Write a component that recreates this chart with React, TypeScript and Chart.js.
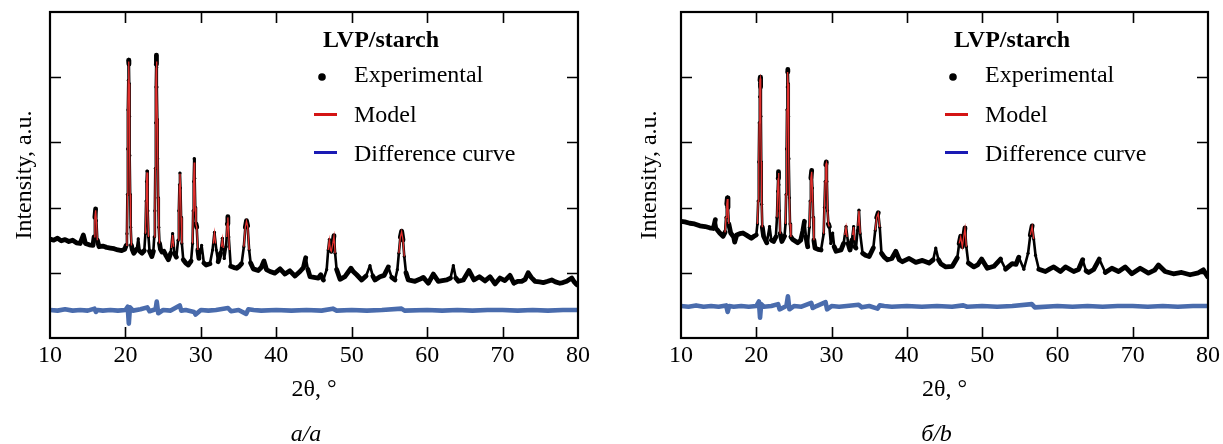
import { useEffect, useRef } from "react";
import { Chart, registerables } from "chart.js";

Chart.register(...registerables);

const FONT = '"Liberation Serif", "Times New Roman", serif';

// ---------- text ----------
const xTickValues = [10, 20, 30, 40, 50, 60, 70, 80];
const yTickValues = [1, 2, 3, 4];
const legendTitle = "LVP/starch";
const legendLabels = ["Experimental", "Model", "Difference curve"];
const xTitle = "2θ, °";
const yTitle = "Intensity, a.u.";
const captionA = "a/a";
const captionB = "б/b";

// ---------- panel a: [2θ, intensity] ----------
const expA: [number, number][] = [
  [10.0, 1.52], [10.5, 1.5], [11.0, 1.53], [11.5, 1.49], [12.0, 1.51], [12.5, 1.48], [13.0, 1.5], [13.5, 1.46],
  [14.0, 1.45], [14.42, 1.58], [14.7, 1.45], [15.2, 1.43], [15.7, 1.42], [15.85, 1.55], [15.95, 1.85], [16.05, 1.98],
  [16.15, 1.8], [16.28, 1.5], [16.5, 1.4], [17.0, 1.41], [17.5, 1.39], [18.0, 1.38], [18.5, 1.37], [19.0, 1.35],
  [19.5, 1.34], [19.9, 1.36], [20.1, 1.42], [20.2, 1.6], [20.26, 2.2], [20.3, 2.9], [20.34, 3.5], [20.38, 3.95],
  [20.42, 4.26], [20.46, 4.2], [20.5, 3.9], [20.54, 3.4], [20.58, 2.8], [20.63, 2.2], [20.7, 1.7], [20.8, 1.42],
  [20.9, 1.36], [21.1, 1.3], [21.5, 1.36], [21.7, 1.52], [21.9, 1.33], [22.2, 1.3], [22.5, 1.34], [22.65, 1.6],
  [22.74, 2.1], [22.8, 2.4], [22.86, 2.56], [22.92, 2.35], [22.98, 1.95], [23.06, 1.55], [23.2, 1.33], [23.5, 1.25],
  [23.7, 1.33], [23.82, 1.55], [23.9, 1.95], [23.96, 2.6], [24.01, 3.3], [24.05, 3.85], [24.08, 4.2], [24.11, 4.34],
  [24.14, 4.15], [24.18, 3.85], [24.23, 3.35], [24.28, 2.75], [24.34, 2.15], [24.42, 1.7], [24.52, 1.45], [24.65, 1.36],
  [24.85, 1.32], [25.1, 1.33], [25.4, 1.26], [25.7, 1.2], [26.0, 1.3], [26.26, 1.6], [26.5, 1.3], [26.75, 1.24],
  [26.98, 1.5], [27.08, 1.95], [27.16, 2.35], [27.23, 2.53], [27.3, 2.3], [27.38, 1.85], [27.48, 1.45], [27.67, 1.2],
  [28.0, 1.15], [28.34, 1.12], [28.7, 1.18], [28.9, 1.45], [28.98, 1.95], [29.05, 2.4], [29.12, 2.75], [29.18, 2.45],
  [29.26, 2.0], [29.35, 1.75], [29.45, 1.7], [29.6, 1.35], [29.75, 1.22], [30.1, 1.42], [30.4, 1.15], [30.7, 1.12],
  [31.2, 1.14], [31.55, 1.35], [31.8, 1.62], [32.05, 1.35], [32.3, 1.17], [32.6, 1.3], [32.85, 1.53], [33.1, 1.22],
  [33.35, 1.4], [33.5, 1.75], [33.58, 1.86], [33.7, 1.55], [33.96, 1.1], [34.4, 1.08], [34.75, 1.07], [35.1, 1.1],
  [35.4, 1.14], [35.7, 1.4], [35.9, 1.7], [36.05, 1.8], [36.2, 1.72], [36.4, 1.35], [36.6, 1.15], [36.95, 1.06],
  [37.6, 1.035], [38.0, 1.08], [38.37, 1.18], [38.7, 1.05], [39.17, 1.02], [39.8, 0.995], [40.5, 1.06], [41.15, 0.98],
  [41.8, 1.03], [42.48, 0.95], [43.14, 1.02], [43.6, 1.08], [43.9, 1.23], [44.2, 1.05], [44.47, 0.94], [45.0, 0.93],
  [45.57, 0.92], [45.9, 0.97], [46.24, 0.89], [46.68, 1.05], [46.88, 1.35], [47.03, 1.51], [47.18, 1.35], [47.3, 1.33],
  [47.5, 1.45], [47.65, 1.57], [47.8, 1.3], [48.0, 1.05], [48.45, 0.9], [49.1, 0.94], [49.9, 1.07], [50.2, 1.02],
  [50.66, 0.97], [51.32, 0.89], [51.9, 0.95], [52.42, 1.11], [52.8, 0.95], [53.09, 0.89], [53.75, 0.94], [54.3, 0.96],
  [54.85, 1.09], [55.3, 0.93], [55.74, 0.89], [56.05, 1.05], [56.25, 1.3], [56.45, 1.55], [56.62, 1.64], [56.8, 1.5],
  [56.97, 1.25], [57.2, 1.0], [57.5, 0.89], [58.39, 0.87], [59.0, 0.9], [59.49, 0.93], [60.15, 0.84], [60.82, 0.98],
  [61.48, 0.87], [62.0, 0.88], [62.6, 0.89], [63.1, 0.92], [63.47, 1.11], [63.8, 0.92], [64.14, 0.87], [64.8, 0.89],
  [65.55, 1.035], [66.2, 0.89], [66.92, 0.94], [67.67, 0.875], [68.33, 0.94], [69.0, 0.83], [69.66, 0.92], [70.3, 0.88],
  [70.98, 0.96], [71.5, 0.84], [72.0, 0.87], [72.53, 0.87], [73.0, 0.9], [73.4, 1.0], [73.8, 0.93], [74.3, 0.87],
  [74.9, 0.86], [75.4, 0.85], [76.0, 0.87], [76.51, 0.89], [77.0, 0.86], [77.6, 0.84], [78.0, 0.85], [78.5, 0.87],
  [79.17, 0.92], [79.5, 0.86], [79.8, 0.82], [80.0, 0.81],
];

// model curve, peak regions only (null = gap)
const modelA: [number, number | null][] = [
  [15.85, 1.55], [15.95, 1.85], [16.05, 1.96], [16.15, 1.8], [16.28, 1.5], [17.0, null],
  [20.1, 1.42], [20.2, 1.6], [20.26, 2.2], [20.3, 2.9], [20.34, 3.5], [20.38, 3.95], [20.42, 4.24],
  [20.46, 4.18], [20.5, 3.9], [20.54, 3.4], [20.58, 2.8], [20.63, 2.2], [20.7, 1.7], [20.8, 1.42], [21.3, null],
  [22.65, 1.6], [22.74, 2.1], [22.8, 2.4], [22.86, 2.54], [22.92, 2.35], [22.98, 1.95], [23.06, 1.55], [23.45, null],
  [23.82, 1.55], [23.9, 1.95], [23.96, 2.6], [24.01, 3.3], [24.05, 3.85], [24.08, 4.15], [24.11, 4.24],
  [24.14, 4.12], [24.18, 3.85], [24.23, 3.35], [24.28, 2.75], [24.34, 2.15], [24.42, 1.7], [24.52, 1.45], [25.5, null],
  [26.1, 1.38], [26.26, 1.58], [26.4, 1.4], [26.7, null],
  [26.98, 1.5], [27.08, 1.95], [27.16, 2.35], [27.23, 2.52], [27.3, 2.3], [27.38, 1.85], [27.48, 1.45], [28.2, null],
  [28.9, 1.45], [28.98, 1.95], [29.05, 2.4], [29.12, 2.69], [29.18, 2.45], [29.26, 2.0], [29.35, 1.75],
  [29.45, 1.7], [29.6, 1.35], [31.0, null],
  [31.65, 1.45], [31.8, 1.61], [31.95, 1.45], [32.4, null],
  [32.72, 1.4], [32.85, 1.52], [32.98, 1.38], [33.2, null],
  [33.42, 1.55], [33.5, 1.75], [33.58, 1.85], [33.7, 1.55], [33.8, 1.35], [35.0, null],
  [35.7, 1.4], [35.9, 1.7], [36.05, 1.79], [36.2, 1.72], [36.4, 1.35], [40.0, null],
  [46.88, 1.35], [47.03, 1.5], [47.18, 1.35], [47.3, 1.33], [47.5, 1.45], [47.65, 1.56], [47.8, 1.3], [52.0, null],
  [56.25, 1.3], [56.45, 1.55], [56.62, 1.63], [56.8, 1.5], [56.97, 1.25],
];

const diffA: [number, number][] = [
  [10, 0.43], [11, 0.42], [12, 0.44], [13, 0.42], [14, 0.43], [15, 0.42], [15.9, 0.45], [16.1, 0.4], [16.3, 0.43],
  [17, 0.42], [18, 0.43], [19, 0.42], [20, 0.43], [20.3, 0.48], [20.45, 0.22], [20.6, 0.47], [21, 0.42], [22, 0.44],
  [22.9, 0.47], [23.2, 0.41], [24.0, 0.44], [24.15, 0.56], [24.35, 0.38], [25, 0.43], [26, 0.42], [27.2, 0.5],
  [27.4, 0.42], [28, 0.43], [29.1, 0.4], [29.3, 0.36], [30, 0.43], [31, 0.42], [32, 0.43], [33.6, 0.46], [34, 0.41],
  [35, 0.43], [36.0, 0.37], [36.3, 0.44], [37, 0.43], [38, 0.42], [40, 0.43], [42, 0.42], [44, 0.43], [46, 0.42],
  [47.5, 0.45], [48, 0.42], [50, 0.43], [52, 0.42], [54, 0.43], [56.6, 0.45], [57, 0.42], [60, 0.43], [62, 0.42],
  [64, 0.43], [66, 0.42], [68, 0.43], [70, 0.43], [72, 0.42], [74, 0.43], [76, 0.42], [78, 0.43], [80, 0.43],
];

// ---------- panel b ----------
const expB: [number, number][] = [
  [10.0, 1.79], [10.5, 1.78], [11.17, 1.76], [11.8, 1.75], [12.5, 1.72], [13.2, 1.71], [13.8, 1.69], [14.3, 1.68],
  [14.56, 1.815], [14.8, 1.66], [15.14, 1.61], [15.58, 1.56], [15.85, 1.62], [15.98, 1.85], [16.08, 2.05], [16.16, 2.15],
  [16.24, 2.0], [16.35, 1.75], [16.6, 1.61], [17.0, 1.55], [17.13, 1.47], [17.4, 1.58], [17.8, 1.6], [18.23, 1.61],
  [18.8, 1.57], [19.34, 1.53], [19.7, 1.56], [20.0, 1.58], [20.15, 1.75], [20.25, 2.1], [20.33, 2.7], [20.39, 3.3],
  [20.44, 3.7], [20.49, 3.95], [20.53, 4.0], [20.57, 3.85], [20.61, 3.4], [20.66, 2.7], [20.72, 2.05], [20.8, 1.7],
  [20.97, 1.56], [21.4, 1.46], [21.76, 1.71], [22.0, 1.5], [22.3, 1.48], [22.6, 1.55], [22.75, 1.85], [22.84, 2.25],
  [22.9, 2.45], [22.95, 2.55], [23.01, 2.35], [23.08, 1.95], [23.18, 1.6], [23.4, 1.48], [23.75, 1.56], [23.88, 1.75],
  [23.96, 2.2], [24.03, 2.9], [24.08, 3.5], [24.12, 3.85], [24.16, 4.08], [24.19, 4.12], [24.23, 3.9], [24.28, 3.4],
  [24.34, 2.75], [24.4, 2.15], [24.48, 1.75], [24.6, 1.55], [24.85, 1.51], [25.5, 1.46], [25.9, 1.5], [26.2, 1.65],
  [26.4, 1.79], [26.6, 1.55], [26.83, 1.4], [27.05, 1.7], [27.15, 2.1], [27.25, 2.45], [27.36, 2.57], [27.45, 2.3],
  [27.55, 1.85], [27.65, 1.5], [27.8, 1.38], [28.2, 1.36], [28.6, 1.35], [28.95, 1.6], [29.05, 2.0], [29.15, 2.4],
  [29.24, 2.66], [29.3, 2.7], [29.38, 2.4], [29.47, 1.95], [29.58, 1.75], [29.7, 1.71], [29.9, 1.45], [30.15, 1.61],
  [30.35, 1.4], [30.6, 1.33], [31.26, 1.35], [31.6, 1.45], [31.92, 1.71], [32.2, 1.45], [32.45, 1.35], [32.7, 1.5],
  [32.93, 1.71], [33.1, 1.4], [33.24, 1.38], [33.45, 1.65], [33.64, 1.96], [33.8, 1.6], [34.12, 1.3], [34.5, 1.27],
  [35.0, 1.25], [35.54, 1.38], [35.8, 1.65], [36.0, 1.85], [36.2, 1.92], [36.4, 1.7], [36.63, 1.3], [37.0, 1.24],
  [37.43, 1.2], [38.0, 1.22], [38.54, 1.33], [39.0, 1.2], [39.42, 1.17], [40.3, 1.22], [41.19, 1.16], [42.07, 1.19],
  [42.95, 1.15], [43.5, 1.2], [43.84, 1.38], [44.2, 1.2], [44.5, 1.14], [45.17, 1.09], [46.04, 1.1], [46.7, 1.23],
  [46.95, 1.45], [47.15, 1.56], [47.37, 1.4], [47.55, 1.55], [47.72, 1.69], [47.9, 1.4], [48.16, 1.15], [48.91, 1.09],
  [49.4, 1.12], [49.93, 1.21], [50.68, 1.07], [51.56, 1.1], [52.45, 1.21], [53.11, 1.055], [53.99, 1.14], [54.5, 1.13],
  [54.87, 1.24], [55.54, 1.055], [56.1, 1.3], [56.4, 1.58], [56.64, 1.72], [56.85, 1.52], [57.09, 1.27], [57.53, 1.055],
  [58.41, 1.02], [59.0, 1.06], [59.51, 1.09], [60.4, 1.02], [61.06, 1.09], [62.16, 1.02], [62.8, 1.05], [63.35, 1.2],
  [63.8, 1.03], [64.15, 1.005], [64.81, 1.05], [65.56, 1.21], [66.36, 1.005], [67.23, 1.07], [68.12, 1.02], [69.0, 1.09],
  [69.88, 0.985], [70.99, 1.07], [72.09, 0.995], [72.9, 1.04], [73.42, 1.12], [74.3, 1.02], [75.4, 0.985], [76.5, 1.005],
  [77.62, 0.97], [78.72, 1.0], [79.38, 1.045], [79.95, 0.94], [80.0, 0.95],
];

const modelB: [number, number | null][] = [
  [15.85, 1.62], [15.98, 1.85], [16.08, 2.05], [16.16, 2.13], [16.24, 2.0], [16.35, 1.75], [18.0, null],
  [20.15, 1.75], [20.25, 2.1], [20.33, 2.7], [20.39, 3.3], [20.44, 3.7], [20.49, 3.95],
  [20.53, 3.98], [20.57, 3.85], [20.61, 3.4], [20.66, 2.7], [20.72, 2.05], [20.8, 1.7], [21.2, null],
  [22.75, 1.85], [22.84, 2.25], [22.9, 2.45], [22.95, 2.53], [23.01, 2.35], [23.08, 1.95], [23.18, 1.6], [23.6, null],
  [23.88, 1.75], [23.96, 2.2], [24.03, 2.9], [24.08, 3.5], [24.12, 3.85], [24.16, 4.05], [24.19, 4.08],
  [24.23, 3.9], [24.28, 3.4], [24.34, 2.75], [24.4, 2.15], [24.48, 1.75], [24.6, 1.55], [25.2, null],
  [27.05, 1.7], [27.15, 2.1], [27.25, 2.45], [27.36, 2.55], [27.45, 2.3], [27.55, 1.85], [27.65, 1.5], [28.2, null],
  [28.95, 1.6], [29.05, 2.0], [29.15, 2.4], [29.24, 2.66], [29.3, 2.68], [29.38, 2.4], [29.47, 1.95],
  [29.58, 1.75], [29.7, 1.71], [31.0, null],
  [31.75, 1.58], [31.92, 1.7], [32.05, 1.55], [32.45, null],
  [32.8, 1.58], [32.93, 1.7], [33.05, 1.5], [33.3, null],
  [33.5, 1.72], [33.64, 1.95], [33.8, 1.6], [35.2, null],
  [35.8, 1.65], [36.0, 1.85], [36.2, 1.91], [36.4, 1.7], [40.0, null],
  [46.95, 1.45], [47.15, 1.55], [47.37, 1.4], [47.55, 1.55], [47.72, 1.68], [47.9, 1.4], [52.0, null],
  [56.4, 1.58], [56.64, 1.71], [56.85, 1.52],
];

const diffB: [number, number][] = [
  [10, 0.49], [11, 0.48], [12, 0.5], [13, 0.48], [14, 0.49], [15, 0.48], [16.0, 0.5], [16.2, 0.4], [16.4, 0.49],
  [17, 0.48], [18, 0.49], [19, 0.48], [20, 0.49], [20.35, 0.56], [20.5, 0.31], [20.65, 0.52], [21, 0.48], [22, 0.49],
  [22.9, 0.52], [23.1, 0.44], [24.0, 0.49], [24.2, 0.64], [24.4, 0.44], [25, 0.49], [26, 0.48], [27.3, 0.54],
  [27.5, 0.46], [28, 0.49], [29.2, 0.55], [29.4, 0.44], [30, 0.49], [31, 0.48], [32, 0.49], [33.6, 0.51], [34, 0.47],
  [35, 0.49], [36.1, 0.45], [36.4, 0.5], [37, 0.49], [38, 0.48], [40, 0.49], [42, 0.48], [44, 0.49], [46, 0.48],
  [47.5, 0.5], [48, 0.48], [50, 0.49], [52, 0.48], [54, 0.49], [56.6, 0.52], [57, 0.47], [60, 0.49], [62, 0.48],
  [64, 0.49], [66, 0.48], [68, 0.49], [70, 0.49], [72, 0.48], [74, 0.49], [76, 0.48], [78, 0.49], [80, 0.49],
];

// ---------- helpers ----------
const toXY = (arr: [number, number | null][]) => arr.map(([x, y]) => ({ x, y }));

const COLORS = {
  exp: "#000000",
  model: "#e3302e",
  diff: "#4a6cad",
  legendModel: "#d41414",
  legendDiff: "#1a1ab4",
};

const framePlugin = {
  id: "frameTicks",
  afterDraw(chart: any, _args: any, opts: any) {
    const { ctx, chartArea: a, scales } = chart;
    ctx.save();
    // inner ticks
    ctx.strokeStyle = "#000";
    ctx.lineWidth = 1.6;
    ctx.beginPath();
    xTickValues.forEach((v) => {
      if (v === 10 || v === 80) return;
      const px = Math.round(scales.x.getPixelForValue(v)) + 0.5;
      ctx.moveTo(px, a.bottom);
      ctx.lineTo(px, a.bottom - 11);
      ctx.moveTo(px, a.top);
      ctx.lineTo(px, a.top + 11);
    });
    yTickValues.forEach((v) => {
      const py = Math.round(scales.y.getPixelForValue(v)) + 0.5;
      ctx.moveTo(a.left, py);
      ctx.lineTo(a.left + 11, py);
      ctx.moveTo(a.right, py);
      ctx.lineTo(a.right - 11, py);
    });
    ctx.stroke();
    // frame
    ctx.lineWidth = 2.2;
    ctx.strokeRect(a.left, a.top, a.right - a.left, a.bottom - a.top);

    // legend
    const lx = a.left;
    ctx.fillStyle = "#000";
    ctx.textBaseline = "alphabetic";
    ctx.textAlign = "left";
    ctx.font = `bold 24px ${FONT}`;
    ctx.fillText(legendTitle, lx + 273, 47);
    ctx.font = `24px ${FONT}`;
    ctx.fillText(legendLabels[0], lx + 304, 82);
    ctx.fillText(legendLabels[1], lx + 304, 122);
    ctx.fillText(legendLabels[2], lx + 304, 161);
    ctx.beginPath();
    ctx.arc(lx + 272, 77, 3.8, 0, Math.PI * 2);
    ctx.fill();
    ctx.lineWidth = 3;
    ctx.strokeStyle = COLORS.legendModel;
    ctx.beginPath();
    ctx.moveTo(lx + 264, 114.5);
    ctx.lineTo(lx + 287, 114.5);
    ctx.stroke();
    ctx.strokeStyle = COLORS.legendDiff;
    ctx.beginPath();
    ctx.moveTo(lx + 264, 152.5);
    ctx.lineTo(lx + 287, 152.5);
    ctx.stroke();

    // caption
    ctx.fillStyle = "#000";
    ctx.font = `italic 24px ${FONT}`;
    ctx.textAlign = "center";
    ctx.fillText(opts.caption, (a.left + a.right) / 2 - 8, 441);
    ctx.restore();
  },
};

type PanelProps = {
  left: number;
  width: number;
  yWidth: number;
  padRight: number;
  yTitlePad: number;
  exp: [number, number][];
  model: [number, number | null][];
  diff: [number, number][];
  caption: string;
};

function Panel({ left, width, yWidth, padRight, yTitlePad, exp, model, diff, caption }: PanelProps) {
  const ref = useRef<HTMLCanvasElement>(null);
  useEffect(() => {
    if (!ref.current) return;
    const font = { family: FONT, size: 24 };
    const chart = new Chart(ref.current, {
      type: "line",
      data: {
        datasets: [
          {
            label: legendLabels[1],
            data: toXY(model),
            borderColor: COLORS.model,
            borderWidth: 1.3,
            pointRadius: 0,
            tension: 0,
            spanGaps: false,
            order: 0,
          },
          {
            label: legendLabels[0],
            data: toXY(exp),
            borderColor: COLORS.exp,
            backgroundColor: COLORS.exp,
            borderWidth: 4.8,
            borderCapStyle: "round",
            borderJoinStyle: "round",
            pointRadius: 1.6,
            pointBorderWidth: 0,
            pointBackgroundColor: COLORS.exp,
            tension: 0,
            order: 1,
            segment: {
              borderWidth: (ctx: any) => {
                const dy = Math.abs(ctx.p1.y - ctx.p0.y);
                const dx = Math.abs(ctx.p1.x - ctx.p0.x);
                return dy > 10 && dy > 2 * dx ? 2.6 : 4.8;
              },
            },
          } as any,
          {
            label: legendLabels[2],
            data: toXY(diff),
            borderColor: COLORS.diff,
            borderWidth: 4.6,
            borderJoinStyle: "round",
            pointRadius: 0,
            tension: 0,
            order: 2,
          },
        ],
      },
      options: {
        animation: false,
        responsive: false,
        maintainAspectRatio: false,
        events: [],
        layout: { padding: { left: 0, top: 12, right: padRight, bottom: 24 } },
        plugins: {
          legend: { display: false },
          tooltip: { enabled: false },
          frameTicks: { caption },
        } as any,
        scales: {
          x: {
            type: "linear",
            min: 10,
            max: 80,
            afterFit: (s: any) => {
              s.height = 82;
            },
            ticks: {
              stepSize: 10,
              color: "#000",
              font,
              padding: 3,
              maxRotation: 0,
              autoSkip: false,
            },
            grid: { display: false, drawTicks: false },
            border: { display: false },
            title: {
              display: true,
              text: xTitle,
              color: "#000",
              font,
              padding: { top: 0, bottom: 15.6 },
            },
          },
          y: {
            type: "linear",
            min: 0,
            max: 5,
            afterFit: (s: any) => {
              s.width = yWidth;
            },
            ticks: { display: false },
            grid: { display: false, drawTicks: false },
            border: { display: false },
            title: {
              display: true,
              text: yTitle,
              color: "#000",
              font,
              padding: { top: yTitlePad, bottom: 0 },
            },
          },
        },
      } as any,
      plugins: [framePlugin],
    });
    return () => chart.destroy();
  }, []);
  return (
    <canvas
      ref={ref}
      width={width}
      height={444}
      style={{ position: "absolute", left, top: 0, width, height: 444 }}
    />
  );
}

export default function App() {
  return (
    <div style={{ position: "absolute", left: 0, top: 0, width: 1223, height: 444, background: "#fff" }}>
      <Panel left={0} width={632} yWidth={50} padRight={54} yTitlePad={10.6} exp={expA} model={modelA} diff={diffA} caption={captionA} />
      <Panel left={632} width={591} yWidth={49} padRight={13} yTitlePad={3.6} exp={expB} model={modelB} diff={diffB} caption={captionB} />
    </div>
  );
}
